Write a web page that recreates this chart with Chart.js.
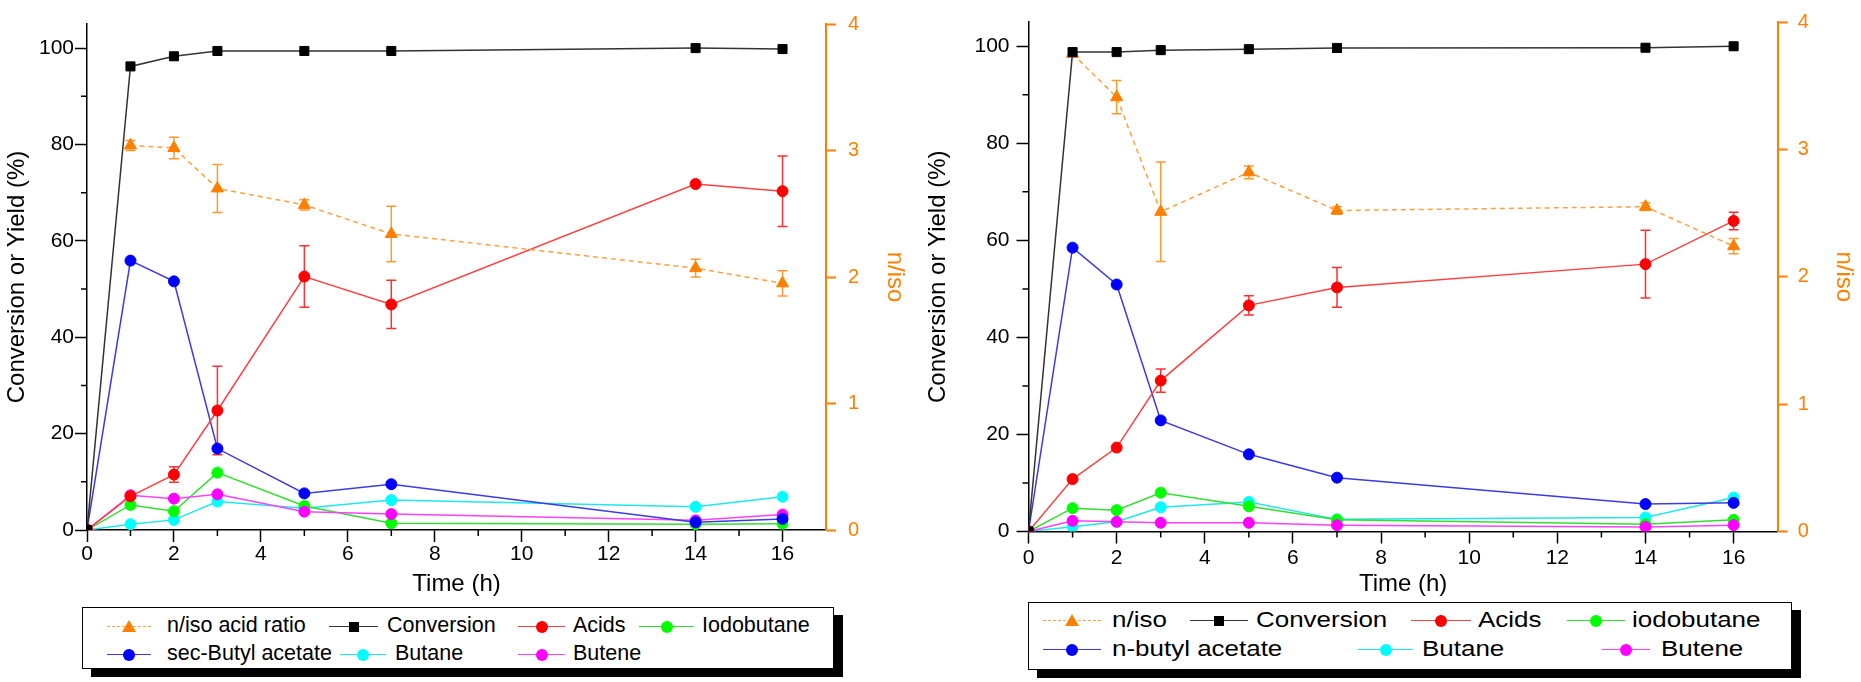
<!DOCTYPE html>
<html>
<head>
<meta charset="utf-8">
<script src="https://cdn.jsdelivr.net/npm/chart.js@4.4.1/dist/chart.umd.min.js"></script>
<style>
  body { margin: 0; width: 1861px; height: 682px; overflow: hidden; position: relative; background: #fff;
         font-family: "Liberation Sans", Arial, sans-serif; }
  canvas { position: absolute; top: 0; }
  .box { position: absolute; border: 1.5px solid #000; background: #fff; box-shadow: 9px 8px 0 #000; }
  .sym { position: absolute; height: 0; }
  .mark { position: absolute; }
  .txt { position: absolute; white-space: nowrap; color: #000; line-height: 1; transform-origin: left center; }
</style>
</head>
<body>
<canvas id="chartA" width="930" height="600" style="left:0px"></canvas>
<canvas id="chartB" width="956" height="600" style="left:905px"></canvas>
<script>
// ---- data ----
const timeH = [0, 1, 2, 3, 5, 7, 14, 16];
const timeRatio = [1, 2, 3, 5, 7, 14, 16];

// left panel (sec-butyl acetate)
const convA = [0, 96.2, 98.3, 99.4, 99.4, 99.4, 100, 99.8];
const acidsA = [0, 7.0, 11.5, 24.8, 52.6, 46.8, 71.8, 70.3];
const acidsErrA = [0, 0, 1.6, 9.2, 6.4, 5.0, 0, 7.3];
const iodoA = [0, 5.2, 3.9, 11.9, 5.0, 1.4, 1.2, 1.3];
const esterA = [0, 55.9, 51.6, 16.9, 7.6, 9.5, 1.6, 2.3];
const butaneA = [0, 1.2, 2.1, 5.9, 4.5, 6.2, 4.8, 6.9];
const buteneA = [0, 7.2, 6.5, 7.4, 3.8, 3.3, 2.0, 3.2];
const ratioA = [3.04, 3.02, 2.70, 2.57, 2.34, 2.07, 1.95];
const ratioErrA = [0.04, 0.085, 0.19, 0.04, 0.22, 0.07, 0.1];

// right panel (n-butyl acetate)
const convB = [0, 98.8, 98.8, 99.2, 99.4, 99.65, 99.7, 100];
const acidsB = [0, 10.8, 17.3, 31.1, 46.6, 50.3, 55.1, 64.0];
const acidsErrB = [0, 0, 0, 2.4, 2.0, 4.1, 7.0, 1.8];
const iodoB = [0, 4.8, 4.4, 8.0, 5.2, 2.4, 1.5, 2.4];
const esterB = [0, 58.5, 50.9, 22.9, 15.9, 11.1, 5.65, 5.9];
const butaneB = [0, 1.0, 2.0, 5.0, 6.1, 2.5, 2.9, 7.0];
const buteneB = [0, 2.2, 2.0, 1.8, 1.8, 1.3, 0.95, 1.3];
const ratioB = [3.75, 3.41, 2.51, 2.82, 2.52, 2.55, 2.24];
const ratioErrB = [0, 0.13, 0.39, 0.05, 0.03, 0.03, 0.06];

// tick labels
const xTickValues = [0, 2, 4, 6, 8, 10, 12, 14, 16];
const xMinorTicks = [1, 3, 5, 7, 9, 11, 13, 15];
const yTickValues = [0, 20, 40, 60, 80, 100];
const yMinorTicks = [10, 30, 50, 70, 90];
const ratioTickValues = [0, 1, 2, 3, 4];

const ORANGE = '#ff7f00';

const seriesStyle = {
  ratio:  { line: '#ffa040', mark: ORANGE, err: '#ff9a30', shape: 'triangle', r: 7, dash: [5, 4] },
  conv:   { line: '#333333', mark: '#000000', shape: 'rect', r: 6.4 },
  acids:  { line: '#ff4040', mark: '#ff0000', err: '#ff3030', shape: 'circle', r: 5.5 },
  iodo:   { line: '#30e030', mark: '#00ff00', shape: 'circle', r: 5.5 },
  ester:  { line: '#3b3be0', mark: '#0000ff', shape: 'circle', r: 5.5 },
  butane: { line: '#20e8e8', mark: '#00ffff', shape: 'circle', r: 5.5 },
  butene: { line: '#ff40ff', mark: '#ff00ff', shape: 'circle', r: 5.5 }
};

Chart.defaults.font.family = '"Liberation Sans", Arial, sans-serif';

function pairs(xs, ys) {
  return xs.map((x, i) => ({ x: x, y: ys[i] }));
}

function dataset(key, label, xs, ys, errs, axis) {
  const st = seriesStyle[key];
  return {
    label: label,
    data: pairs(xs, ys),
    errors: errs || null,
    errorColor: st.err,
    yAxisID: axis || 'y',
    borderColor: st.line,
    borderWidth: 1.5,
    borderDash: st.dash || [],
    backgroundColor: st.mark,
    pointBackgroundColor: st.mark,
    pointBorderColor: st.mark,
    pointBorderWidth: 1,
    pointStyle: st.shape,
    pointRadius: st.r,
    tension: 0,
    fill: false
  };
}

// error bars, drawn under the markers
const errorBars = {
  id: 'errorBars',
  beforeDatasetsDraw(chart) {
    const ctx = chart.ctx;
    chart.data.datasets.forEach((ds, i) => {
      if (!ds.errors) return;
      const meta = chart.getDatasetMeta(i);
      const ys = chart.scales[ds.yAxisID];
      ctx.save();
      ctx.strokeStyle = ds.errorColor;
      ctx.lineWidth = 1.5;
      ctx.beginPath();
      meta.data.forEach((pt, j) => {
        const e = ds.errors[j];
        if (!e) return;
        const v = ds.data[j].y;
        const top = ys.getPixelForValue(v + e);
        const bot = ys.getPixelForValue(v - e);
        ctx.moveTo(pt.x, top); ctx.lineTo(pt.x, bot);
        ctx.moveTo(pt.x - 5, top); ctx.lineTo(pt.x + 5, top);
        ctx.moveTo(pt.x - 5, bot); ctx.lineTo(pt.x + 5, bot);
      });
      ctx.stroke();
      ctx.restore();
    });
  }
};

// short minor ticks on the black axes
const minorTicks = {
  id: 'minorTicks',
  afterDraw(chart) {
    const { ctx, scales: { x, y } } = chart;
    ctx.save();
    ctx.strokeStyle = '#000';
    ctx.lineWidth = 1.5;
    ctx.beginPath();
    xMinorTicks.forEach(v => {
      const px = x.getPixelForValue(v);
      ctx.moveTo(px, x.top);
      ctx.lineTo(px, x.top + 6);
    });
    yMinorTicks.forEach(v => {
      const py = y.getPixelForValue(v);
      ctx.moveTo(y.right, py);
      ctx.lineTo(y.right - 6, py);
    });
    ctx.stroke();
    ctx.restore();
  }
};

function makeChart(id, sets, geo) {
  return new Chart(document.getElementById(id), {
    type: 'line',
    data: { datasets: sets },
    plugins: [errorBars, minorTicks],
    options: {
      responsive: false,
      animation: false,
      devicePixelRatio: 1,
      layout: { padding: { top: geo.top, left: 0, right: 0, bottom: 0 } },
      plugins: { legend: { display: false }, tooltip: { enabled: false } },
      scales: {
        x: {
          type: 'linear', min: 0, max: 17,
          afterBuildTicks: s => { s.ticks = xTickValues.map(v => ({ value: v })); },
          afterFit: s => { s.height = geo.xHeight; },
          border: { color: '#000', width: 1.5 },
          grid: { drawOnChartArea: false, tickLength: 12, tickColor: '#000', tickWidth: 1.5 },
          ticks: { color: '#000', font: { size: 21 }, padding: geo.xPad, maxRotation: 0, autoSkip: false },
          title: { display: true, text: 'Time (h)', color: '#000', font: { size: 24 },
                   padding: { top: 0, bottom: geo.xTitlePad } }
        },
        y: {
          type: 'linear', position: 'left', min: 0, max: 105,
          afterBuildTicks: s => { s.ticks = yTickValues.map(v => ({ value: v })); },
          afterFit: s => { s.width = geo.yWidth; },
          border: { color: '#000', width: 1.5 },
          grid: { drawOnChartArea: false, tickLength: 12, tickColor: '#000', tickWidth: 1.5 },
          ticks: { color: '#000', font: { size: 21 }, padding: geo.yPad },
          title: { display: true, text: 'Conversion or Yield (%)', color: '#000', font: { size: 24 },
                   padding: { top: geo.yTitlePad, bottom: 0 } }
        },
        y2: {
          type: 'linear', position: 'right', min: 0, max: 4,
          afterBuildTicks: s => { s.ticks = ratioTickValues.map(v => ({ value: v })); },
          afterFit: s => { s.width = geo.y2Width; },
          border: { color: ORANGE, width: 2 },
          grid: { drawOnChartArea: false, tickLength: 10, tickColor: ORANGE, tickWidth: 2 },
          ticks: { color: ORANGE, font: { size: 20 }, padding: geo.y2Pad },
          title: { display: true, text: 'n/iso', color: ORANGE, font: { size: 24 },
                   padding: { top: geo.y2TitlePad, bottom: 0 } }
        }
      }
    }
  });
}

makeChart('chartA', [
  dataset('conv', 'Conversion', timeH, convA),
  dataset('ratio', 'n/iso acid ratio', timeRatio, ratioA, ratioErrA, 'y2'),
  dataset('acids', 'Acids', timeH, acidsA, acidsErrA),
  dataset('ester', 'sec-Butyl acetate', timeH, esterA),
  dataset('butene', 'Butene', timeH, buteneA),
  dataset('iodo', 'Iodobutane', timeH, iodoA),
  dataset('butane', 'Butane', timeH, butaneA)
], { top: 21, xHeight: 70, xPad: 0, xTitlePad: 1, yWidth: 87, yPad: 1, yTitlePad: 3,
     y2Width: 104, y2Pad: 12, y2TitlePad: 21 });

makeChart('chartB', [
  dataset('conv', 'Conversion', timeH, convB),
  dataset('ratio', 'n/iso', timeRatio, ratioB, ratioErrB, 'y2'),
  dataset('acids', 'Acids', timeH, acidsB, acidsErrB),
  dataset('ester', 'n-butyl acetate', timeH, esterB),
  dataset('butene', 'Butene', timeH, buteneB),
  dataset('iodo', 'iodobutane', timeH, iodoB),
  dataset('butane', 'Butane', timeH, butaneB)
], { top: 20, xHeight: 68.5, xPad: 2, xTitlePad: 1.5, yWidth: 123.5, yPad: 7, yTitlePad: 18.5,
     y2Width: 83.3, y2Pad: 10, y2TitlePad: 3 });

// ---- legends (HTML) ----
function legendBox(l, t, w, h) {
  const b = document.createElement('div');
  b.className = 'box';
  Object.assign(b.style, { left: l + 'px', top: t + 'px', width: w + 'px', height: h + 'px' });
  document.body.appendChild(b);
}

function legendItem(key, text, symL, symR, textX, cy, fontSize, stretch) {
  const st = seriesStyle[key];
  const line = document.createElement('div');
  line.className = 'sym';
  Object.assign(line.style, {
    left: symL + 'px', top: (cy - 0.75) + 'px', width: (symR - symL) + 'px',
    borderTop: '1.5px ' + (st.dash ? 'dashed ' : 'solid ') + st.line
  });
  document.body.appendChild(line);

  const m = document.createElement('div');
  m.className = 'mark';
  const cx = (symL + symR) / 2;
  if (st.shape === 'circle') {
    Object.assign(m.style, { left: (cx - 6) + 'px', top: (cy - 6) + 'px', width: '12px', height: '12px',
                             borderRadius: '50%', background: st.mark });
  } else if (st.shape === 'rect') {
    Object.assign(m.style, { left: (cx - 5) + 'px', top: (cy - 5) + 'px', width: '10px', height: '10px',
                             background: st.mark });
  } else {
    Object.assign(m.style, { left: (cx - 7) + 'px', top: (cy - 7) + 'px', width: 0, height: 0,
                             borderLeft: '7px solid transparent', borderRight: '7px solid transparent',
                             borderBottom: '12px solid ' + st.mark });
  }
  document.body.appendChild(m);

  const t = document.createElement('div');
  t.className = 'txt';
  t.textContent = text;
  Object.assign(t.style, { left: textX + 'px', top: (cy - fontSize * 0.55) + 'px', fontSize: fontSize + 'px',
                           transform: 'scaleX(' + stretch + ')' });
  document.body.appendChild(t);
}

legendBox(82, 607, 750, 60);
legendItem('ratio', 'n/iso acid ratio', 107, 151, 167, 627, 21.5, 1);
legendItem('conv', 'Conversion', 329, 378, 387, 627, 21.5, 1);
legendItem('acids', 'Acids', 518, 565, 573, 627, 21.5, 1);
legendItem('iodo', 'Iodobutane', 639, 694, 702, 627, 21.5, 1);
legendItem('ester', 'sec-Butyl acetate', 107, 151, 167, 655, 21.5, 1);
legendItem('butane', 'Butane', 340, 386, 395, 655, 21.5, 1);
legendItem('butene', 'Butene', 518, 565, 573, 655, 21.5, 1);

legendBox(1028, 602, 762, 66);
legendItem('ratio', 'n/iso', 1043, 1101, 1112, 621, 22, 1.18);
legendItem('conv', 'Conversion', 1190, 1248, 1256, 621, 22, 1.18);
legendItem('acids', 'Acids', 1411, 1471, 1478, 621, 22, 1.18);
legendItem('iodo', 'iodobutane', 1567, 1625, 1632, 621, 22, 1.18);
legendItem('ester', 'n-butyl acetate', 1043, 1101, 1112, 650, 22, 1.18);
legendItem('butane', 'Butane', 1358, 1413, 1422, 650, 22, 1.18);
legendItem('butene', 'Butene', 1602, 1650, 1661, 650, 22, 1.18);
</script>
</body>
</html>
